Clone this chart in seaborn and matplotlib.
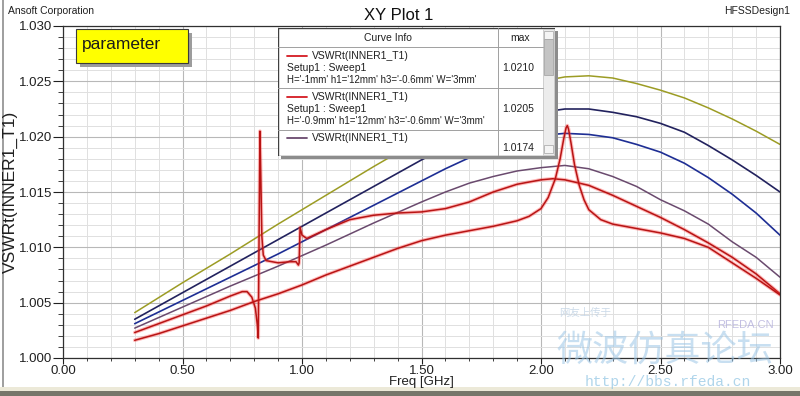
import matplotlib
matplotlib.use('Agg')
import matplotlib.pyplot as plt
import seaborn as sns
from matplotlib.patches import Rectangle
from matplotlib.ticker import MultipleLocator, FormatStrFormatter

# data (Freq in GHz, VSWR)
freq = [0.3, 0.5, 0.7, 0.9, 1.1, 1.3, 1.5, 1.6, 1.7, 1.8, 1.9, 2.0, 2.1,
        2.2, 2.3, 2.4, 2.5, 2.6, 2.7, 2.8, 2.9, 3.0]
vswr_olive = [1.0041, 1.0068, 1.0094, 1.0121, 1.0147, 1.0173, 1.0198, 1.0210,
              1.0222, 1.0234, 1.0243, 1.0250, 1.0254, 1.0255, 1.0253, 1.0248,
              1.0242, 1.0235, 1.0226, 1.0216, 1.0205, 1.0193]
vswr_navy = [1.0035, 1.0059, 1.0083, 1.0107, 1.0131, 1.0155, 1.0179, 1.0190,
             1.0200, 1.0209, 1.0217, 1.0222, 1.0225, 1.0225, 1.0222, 1.0218,
             1.0212, 1.0204, 1.0192, 1.0179, 1.0165, 1.0150]
vswr_blue = [1.0031, 1.0052, 1.0073, 1.0094, 1.0116, 1.0138, 1.0160, 1.0171,
             1.0181, 1.0190, 1.0196, 1.0201, 1.0203, 1.0202, 1.0199, 1.0193,
             1.0186, 1.0176, 1.0163, 1.0148, 1.0131, 1.0111]
vswr_purple = [1.0027, 1.0046, 1.0065, 1.0083, 1.0102, 1.0122, 1.0141, 1.0150,
               1.0158, 1.0164, 1.0169, 1.0172, 1.0174, 1.0171, 1.0164, 1.0155,
               1.0143, 1.0133, 1.0121, 1.0105, 1.0091, 1.0073]

# H='-0.9mm' (max 1.0205), spikes near 0.82 and 1.0 GHz
freq_a = [0.3, 0.4, 0.5, 0.6, 0.7, 0.75, 0.77, 0.79, 0.805, 0.813, 0.817,
          0.820, 0.824, 0.828, 0.832, 0.838, 0.85, 0.9, 0.95, 0.975, 0.985,
          0.988, 0.992, 1.0, 1.02, 1.05, 1.1, 1.2, 1.3, 1.4, 1.5, 1.6, 1.7,
          1.8, 1.9, 2.0, 2.05, 2.1, 2.2, 2.3, 2.4, 2.5, 2.6, 2.7, 2.8, 2.9, 3.0]
vswr_a = [1.0023, 1.0031, 1.0039, 1.0047, 1.0056, 1.0060, 1.0060, 1.0055,
          1.0045, 1.0030, 1.0018, 1.0100, 1.0205, 1.0160, 1.0110, 1.0093,
          1.0088, 1.0086, 1.0087, 1.0087, 1.0084, 1.0086, 1.0118, 1.0111,
          1.0108, 1.0111, 1.0116, 1.0125, 1.0129, 1.0131, 1.0132, 1.0135,
          1.0141, 1.0150, 1.0157, 1.0161, 1.0162, 1.0161, 1.0156, 1.0147,
          1.0137, 1.0127, 1.0116, 1.0104, 1.0091, 1.0076, 1.0058]

# H='-1mm' (max 1.0210), resonance near 2.11 GHz
freq_b = [0.3, 0.4, 0.5, 0.6, 0.7, 0.8, 0.9, 1.0, 1.1, 1.2, 1.3, 1.4, 1.5,
          1.6, 1.7, 1.8, 1.9, 1.95, 2.0, 2.03, 2.06, 2.08, 2.095, 2.105, 2.11,
          2.115, 2.125, 2.14, 2.16, 2.18, 2.2, 2.25, 2.3, 2.4, 2.5, 2.6, 2.7,
          2.8, 2.9, 3.0]
vswr_b = [1.0016, 1.0022, 1.0029, 1.0036, 1.0043, 1.0051, 1.0058, 1.0066,
          1.0075, 1.0083, 1.0091, 1.0099, 1.0106, 1.0111, 1.0115, 1.0119,
          1.0124, 1.0128, 1.0135, 1.0145, 1.0162, 1.0180, 1.0198, 1.0208,
          1.0210, 1.0207, 1.0195, 1.0175, 1.0156, 1.0143, 1.0134, 1.0125,
          1.0121, 1.0117, 1.0113, 1.0108, 1.0100, 1.0086, 1.0072, 1.0057]

legend_rows = [
    ("VSWRt(INNER1_T1)", "Setup1 : Sweep1",
     "H='-1mm' h1='12mm' h3='-0.6mm' W='3mm'", "1.0210", '#d41a22'),
    ("VSWRt(INNER1_T1)", "Setup1 : Sweep1",
     "H='-0.9mm' h1='12mm' h3='-0.6mm' W='3mm'", "1.0205", '#d41a22'),
    ("VSWRt(INNER1_T1)", "", "", "1.0174", '#6a4a6e'),
]

sns.set_style('white')
plt.rcParams['font.family'] = ['Liberation Sans', 'DejaVu Sans']

W, H = 800, 396
fig = plt.figure(figsize=(8, 3.96), dpi=100)


def fx(px):
    return px / W


def fy(py):
    return 1 - py / H


ax = fig.add_axes([fx(63), fy(358), fx(780) - fx(63), fy(26) - fy(358)])

# curves
sns.lineplot(x=freq, y=vswr_olive, ax=ax, color='#9c9c24', lw=1.1, estimator=None)
sns.lineplot(x=freq, y=vswr_navy, ax=ax, color='#22225e', lw=1.2, estimator=None)
sns.lineplot(x=freq, y=vswr_blue, ax=ax, color='#1e2e94', lw=1.2, estimator=None)
sns.lineplot(x=freq, y=vswr_purple, ax=ax, color='#6a4a6e', lw=1.1, estimator=None)
for fr, vv in [(freq_a, vswr_a), (freq_b, vswr_b)]:
    sns.lineplot(x=fr, y=vv, ax=ax, color='#ff3c3c', lw=2.6, alpha=0.35, estimator=None)
    sns.lineplot(x=fr, y=vv, ax=ax, color='#b81414', lw=1.1, estimator=None)

ax.set_xlim(0, 3)
ax.set_ylim(1.0, 1.03)
ax.xaxis.set_major_locator(MultipleLocator(0.5))
ax.xaxis.set_minor_locator(MultipleLocator(0.1))
ax.yaxis.set_major_locator(MultipleLocator(0.005))
ax.yaxis.set_minor_locator(MultipleLocator(0.001))
ax.xaxis.set_major_formatter(FormatStrFormatter('%.2f'))
ax.yaxis.set_major_formatter(FormatStrFormatter('%.3f'))
ax.grid(which='major', color='#b8b8b8', lw=0.8)
ax.grid(which='minor', color='#e0e0e0', lw=0.7)
ax.set_axisbelow(True)
ax.tick_params(axis='both', which='both', direction='out', bottom=True, left=True,
               colors='#202020', labelsize=9.5)
ax.tick_params(axis='y', which='major', length=7, pad=0.5)
ax.tick_params(axis='y', which='minor', length=3.5)
ax.tick_params(axis='x', which='major', length=4, pad=1)
ax.tick_params(axis='x', which='minor', length=2.5)
for s in ax.spines.values():
    s.set_color('#303030')
    s.set_linewidth(0.9)

ax.set_xlabel('Freq [GHz]', fontsize=9.5, color='#202020')
ax.xaxis.set_label_coords(0.5, -(376 - 358) / 332)
ax.xaxis.label.set_va('top')
ax.set_ylabel('VSWRt(INNER1_T1)', fontsize=12.5, color='#202020')
ax.yaxis.set_label_coords(-(63 - 18) / 717, 0.5)

# header texts
fig.text(fx(8), fy(11), 'Ansoft Corporation', fontsize=7.5, va='center', ha='left', color='#202020')
fig.text(fx(399), fy(15), 'XY Plot 1', fontsize=12, va='center', ha='center', color='#101010')
fig.text(fx(790), fy(11), 'HFSSDesign1', fontsize=7.5, va='center', ha='right', color='#202020')

# "parameter" note box
fig.add_artist(Rectangle((fx(80), fy(67)), fx(112), fy(0) - fy(34), transform=fig.transFigure,
                         facecolor='#9c9c9c', edgecolor='none', zorder=2))
fig.add_artist(Rectangle((fx(76), fy(63)), fx(112), fy(0) - fy(34), transform=fig.transFigure,
                         facecolor='#ffff00', edgecolor='#3a3a3a', lw=0.8, zorder=3))
fig.text(fx(82), fy(45), 'parameter', fontsize=12.5, va='center', ha='left', color='#1a1a1a', zorder=4)

# curve info box (drawn on its own axes in local pixel units)
fig.add_artist(Rectangle((fx(281), fy(159)), fx(277), fy(0) - fy(128), transform=fig.transFigure,
                         facecolor='#8c8c8c', edgecolor='none', zorder=4))
lg = fig.add_axes([fx(278), fy(156), fx(277), fy(0) - fy(128)])
lg.set_zorder(5)
lg.set_xlim(0, 277)
lg.set_ylim(128, 0)
lg.axis('off')
lg.add_patch(Rectangle((0, 0), 277, 128, facecolor='white', edgecolor='#404040', lw=1.0))
lg.plot([220, 220], [0, 128], color='#a0a0a0', lw=0.7)
lg.plot([0, 265], [19, 19], color='#a0a0a0', lw=0.7)
lg.plot([0, 265], [60, 60], color='#a0a0a0', lw=0.7)
lg.plot([0, 265], [102, 102], color='#a0a0a0', lw=0.7)
# scrollbar
lg.add_patch(Rectangle((265, 1), 11, 126, facecolor='#ececec', edgecolor='#c8c8c8', lw=0.6))
lg.add_patch(Rectangle((266, 3), 9, 8, facecolor='#f4f4f4', edgecolor='#b0b0b0', lw=0.6))
lg.add_patch(Rectangle((266, 11), 9, 36, facecolor='#c4c4c4', edgecolor='#a8a8a8', lw=0.6))
lg.add_patch(Rectangle((266, 117), 9, 8, facecolor='#f4f4f4', edgecolor='#b0b0b0', lw=0.6))
lg.text(110, 10, 'Curve Info', fontsize=7.5, ha='center', va='center', color='#202020')
lg.text(242, 10, 'max', fontsize=7.5, ha='center', va='center', color='#202020')
row_tops = [28, 69, 110]
for (name, setup, params, mx, col), y0 in zip(legend_rows, row_tops):
    lg.plot([9, 29], [y0, y0], color=col, lw=1.3)
    lg.text(34, y0, name, fontsize=7.5, ha='left', va='center', color='#202020')
    if setup:
        lg.text(9, y0 + 12, setup, fontsize=7.5, ha='left', va='center', color='#202020')
        lg.text(9, y0 + 24, params, fontsize=7, ha='left', va='center', color='#202020')
        lg.text(240, y0 + 12, mx, fontsize=7.5, ha='center', va='center', color='#202020')
    else:
        lg.text(240, y0 + 10, mx, fontsize=7.5, ha='center', va='center', color='#202020')

# watermark
fig.text(fx(665), fy(351), '微波仿真论坛', fontsize=26, ha='center', va='center',
         color='#9cc6e6', alpha=0.55, family=['Noto Sans CJK SC', 'DejaVu Sans'], zorder=10)
fig.text(fx(668), fy(382), 'http://bbs.rfeda.cn', fontsize=10.5, ha='center', va='center',
         color='#9ccbe6', alpha=0.8, family=['Liberation Mono', 'DejaVu Sans Mono'], zorder=10)
fig.text(fx(745), fy(325), 'RFEDA.CN', fontsize=8, ha='center', va='center',
         color='#b4b0dc', alpha=0.8, zorder=10)
fig.text(fx(585), fy(313), '网友上传于', fontsize=7.5, ha='center', va='center',
         color='#c0d2e4', alpha=0.8, family=['Noto Sans CJK SC', 'DejaVu Sans'], zorder=10)

# window frame
fig.add_artist(Rectangle((0, 0), 1, fy(387), transform=fig.transFigure,
                         facecolor='#ece9d8', edgecolor='none', zorder=-2))
fig.add_artist(Rectangle((0, 0), 1, fy(391), transform=fig.transFigure,
                         facecolor='#76766a', edgecolor='none', zorder=-1))
fig.add_artist(Rectangle((fx(2), fy(387)), fx(1.5), fy(0) - fy(387), transform=fig.transFigure,
                         facecolor='#a0a0a0', edgecolor='none', zorder=-1))

fig.savefig('out.png', dpi=100)
